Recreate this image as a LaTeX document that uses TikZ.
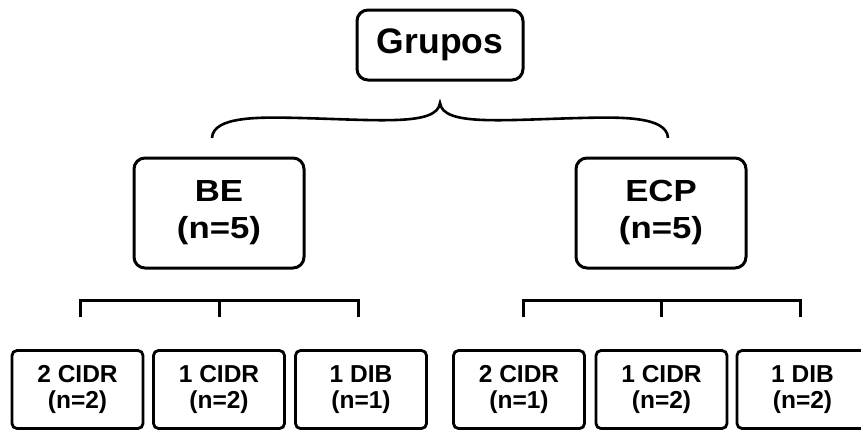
\documentclass[tikz,border=0pt]{standalone}
\usepackage{fontspec}
\setmainfont{Liberation Sans}
\newfontfamily\widefont[FakeStretch=1.14]{Liberation Sans}
\begin{document}
\begin{tikzpicture}[x=1pt,y=-1pt,
  box/.style={draw=black,line width=3pt,rounded corners=11pt,align=center,inner sep=0pt,font=\bfseries},
  topbox/.style={box,minimum width=166pt,minimum height=70pt,font=\fontsize{35.5}{40}\selectfont\bfseries},
  midbox/.style={box,minimum width=170pt,minimum height=110pt,font=\widefont\fontsize{30.5}{37}\selectfont\bfseries},
  lowbox/.style={box,line width=2.8pt,rounded corners=5pt,minimum width=131pt,minimum height=78pt,font=\fontsize{24.5}{26.7}\selectfont\bfseries},
  link/.style={line width=3pt},
  bracelink/.style={line width=2.6pt}]
\useasboundingbox (0,0) rectangle (861,429);
\node[topbox] (grupos) at (440,45) {Grupos};
\node[midbox] (be) at (219,213) {BE\\(n=5)};
\node[midbox] (ecp) at (661,213) {ECP\\(n=5)};
\node[lowbox] (b1) at (77.5,389.5) {2 CIDR\\(n=2)};
\node[lowbox] (b2) at (219,389.5) {1 CIDR\\(n=2)};
\node[lowbox] (b3) at (361,389.5) {1 DIB\\(n=1)};
\node[lowbox] (b4) at (519,389.5) {2 CIDR\\(n=1)};
\node[lowbox] (b5) at (661.5,389.5) {1 CIDR\\(n=2)};
\node[lowbox] (b6) at (802.5,389.5) {1 DIB\\(n=2)};
% brace
\coordinate (bl) at (212,138);
\coordinate (bt) at (440,103);
\coordinate (br) at (668,138);
\draw[bracelink] (bl) .. controls (213,116) and (260,117) .. (300,118)
  .. controls (380,120) and (437,126) .. (bt)
  .. controls (443,126) and (500,120) .. (580,118)
  .. controls (620,117) and (667,116) .. (br);
% left bracket
\coordinate (l1) at (80,317);
\coordinate (l2) at (219,317);
\coordinate (l3) at (358,317);
\coordinate (l1t) at (80,300);
\coordinate (l2t) at (219,300);
\coordinate (l3t) at (358,300);
\draw[link] (l1) -- (l1t) -- (l3t) -- (l3);
\draw[link] (l2t) -- (l2);
% right bracket
\coordinate (r1) at (523,317);
\coordinate (r2) at (661,317);
\coordinate (r3) at (800,317);
\coordinate (r1t) at (523,300);
\coordinate (r2t) at (661,300);
\coordinate (r3t) at (800,300);
\draw[link] (r1) -- (r1t) -- (r3t) -- (r3);
\draw[link] (r2t) -- (r2);
\end{tikzpicture}
\end{document}
